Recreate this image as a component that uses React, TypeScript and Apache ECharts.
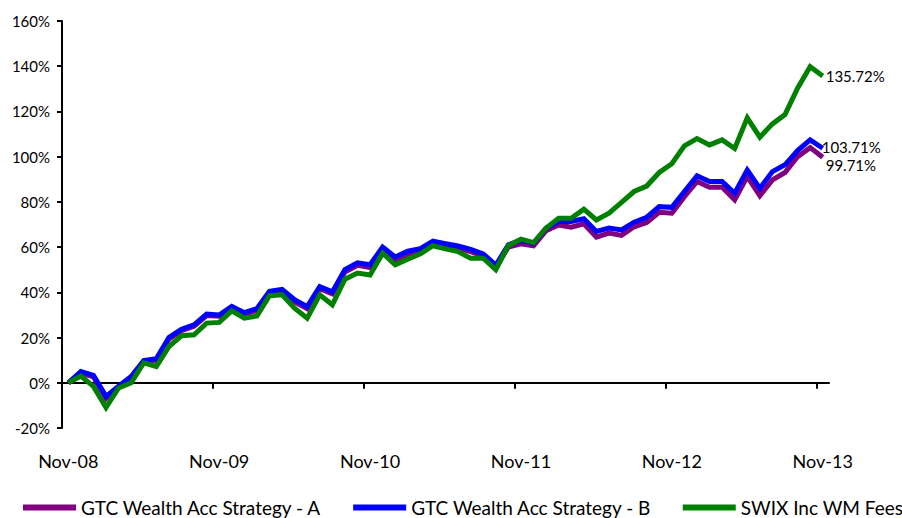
import React, { useEffect, useRef } from "react";
import * as echarts from "echarts";

const tickLabels = ["Nov-08", "Nov-09", "Nov-10", "Nov-11", "Nov-12", "Nov-13"];
const seriesNames = ["GTC Wealth Acc Strategy - A", "GTC Wealth Acc Strategy - B", "SWIX Inc WM Fees"];

const strategyA = [
  0, 4.3, 2.6, -7.0, -2.0, 2.2, 9.2, 10.0, 19.3, 23.0, 25.0, 29.7,
  29.4, 33.2, 30.3, 32.0, 39.8, 40.5, 35.8, 32.8, 41.6, 39.3, 49.0, 52.0,
  51.0, 59.2, 54.2, 56.8, 58.2, 61.8, 60.6, 59.6, 58.0, 56.0, 51.0, 60.0,
  61.5, 60.6, 67.3, 69.8, 68.8, 70.3, 64.4, 66.2, 65.2, 69.0, 70.9, 75.4,
  75.0, 82.3, 89.0, 86.5, 86.5, 80.9, 91.2, 82.7, 89.7, 93.0, 100.0, 104.0,
  99.71,
];
const strategyB = [
  0, 5.0, 3.3, -6.0, -1.5, 2.8, 9.8, 10.6, 20.0, 23.7, 25.6, 30.4,
  30.0, 33.8, 31.0, 32.8, 40.5, 41.3, 36.7, 33.7, 42.5, 40.2, 50.0, 53.0,
  52.2, 60.0, 55.6, 58.2, 59.3, 62.6, 61.5, 60.5, 59.0, 57.0, 52.0, 61.0,
  63.0, 61.7, 68.4, 71.3, 71.3, 72.5, 66.9, 68.4, 67.6, 71.0, 73.2, 77.9,
  77.6, 84.6, 91.5, 89.0, 89.0, 83.8, 94.1, 86.0, 93.4, 96.4, 102.7, 107.4,
  103.71,
];
const swix = [
  0, 3.0, -1.6, -10.9, -2.3, 0.0, 8.8, 7.2, 16.0, 20.8, 21.2, 26.4,
  26.7, 31.8, 28.6, 29.5, 38.5, 38.9, 33.0, 28.6, 38.9, 34.5, 45.8, 48.5,
  47.7, 57.3, 52.2, 54.7, 57.0, 60.6, 59.2, 58.0, 55.1, 55.1, 50.0, 60.7,
  63.5, 62.0, 68.4, 72.8, 72.8, 76.8, 72.0, 75.0, 79.8, 84.6, 87.0, 93.0,
  96.9, 104.8, 108.0, 105.2, 107.4, 103.6, 117.2, 108.6, 114.5, 118.6, 130.3, 139.8,
  135.72,
];

const colors = ["#800080", "#0000FF", "#008000"];
const endOffsets = [[0, 8], [-4, -1], [0, 0]];
const FONT = "Lato";

export default function App() {
  const ref = useRef<HTMLDivElement>(null);
  useEffect(() => {
    if (!ref.current) return;
    const chart = echarts.init(ref.current, null, { renderer: "svg" });
    const all = [strategyA, strategyB, swix];
    chart.setOption({
      animation: false,
      backgroundColor: "#ffffff",
      grid: { left: 62, right: 73, top: 21, bottom: 90, outerBoundsMode: "none" },
      legend: {
        data: seriesNames,
        left: 23,
        top: 498,
        width: 1000,
        padding: 0,
        itemGap: 31,
        itemWidth: 53,
        itemHeight: 6,
        icon: "rect",
        textStyle: { fontFamily: FONT, fontSize: 19, color: "#000" },
      },
      xAxis: {
        type: "value",
        min: -0.5,
        max: 60.5,
        splitLine: { show: false },
        axisLine: { onZero: true, lineStyle: { color: "#000", width: 2 } },
        axisTick: {
          show: true,
          length: 6,
          customValues: [-0.5, 11.5, 23.5, 35.5, 47.5, 59.5],
          lineStyle: { color: "#000", width: 2 },
        },
        axisLabel: {
          customValues: [0, 12, 24, 36, 48, 60],
          formatter: (v: number) => tickLabels[Math.round(v / 12)] ?? "",
          margin: 24,
          fontFamily: FONT,
          fontSize: 18,
          color: "#000",
        },
      },
      yAxis: {
        type: "value",
        min: -20,
        max: 160,
        interval: 20,
        splitLine: { show: false },
        axisLine: { show: true, onZero: false, lineStyle: { color: "#000", width: 2 } },
        axisTick: { show: true, length: 5, lineStyle: { color: "#000", width: 2 } },
        axisLabel: {
          formatter: "{value}%",
          margin: 12,
          fontFamily: FONT,
          fontSize: 15,
          color: "#000",
        },
      },
      series: all.map((arr, k) => ({
        name: seriesNames[k],
        type: "line",
        data: arr.map((v, i) => [i, v]),
        showSymbol: false,
        symbol: "none",
        lineStyle: { color: colors[k], width: 5, join: "miter" },
        itemStyle: { color: colors[k] },
        endLabel: {
          show: true,
          distance: 3,
          offset: endOffsets[k],
          formatter: (p: any) => `${Number(p.value[1]).toFixed(2)}%`,
          fontFamily: FONT,
          fontSize: 15,
          lineHeight: 15,
          color: "#000",
        },
        emphasis: { disabled: true },
      })),
    });
    return () => chart.dispose();
  }, []);
  return (
    <div
      ref={ref}
      style={{ position: "fixed", left: 0, top: 0, width: 902, height: 518 }}
    />
  );
}
